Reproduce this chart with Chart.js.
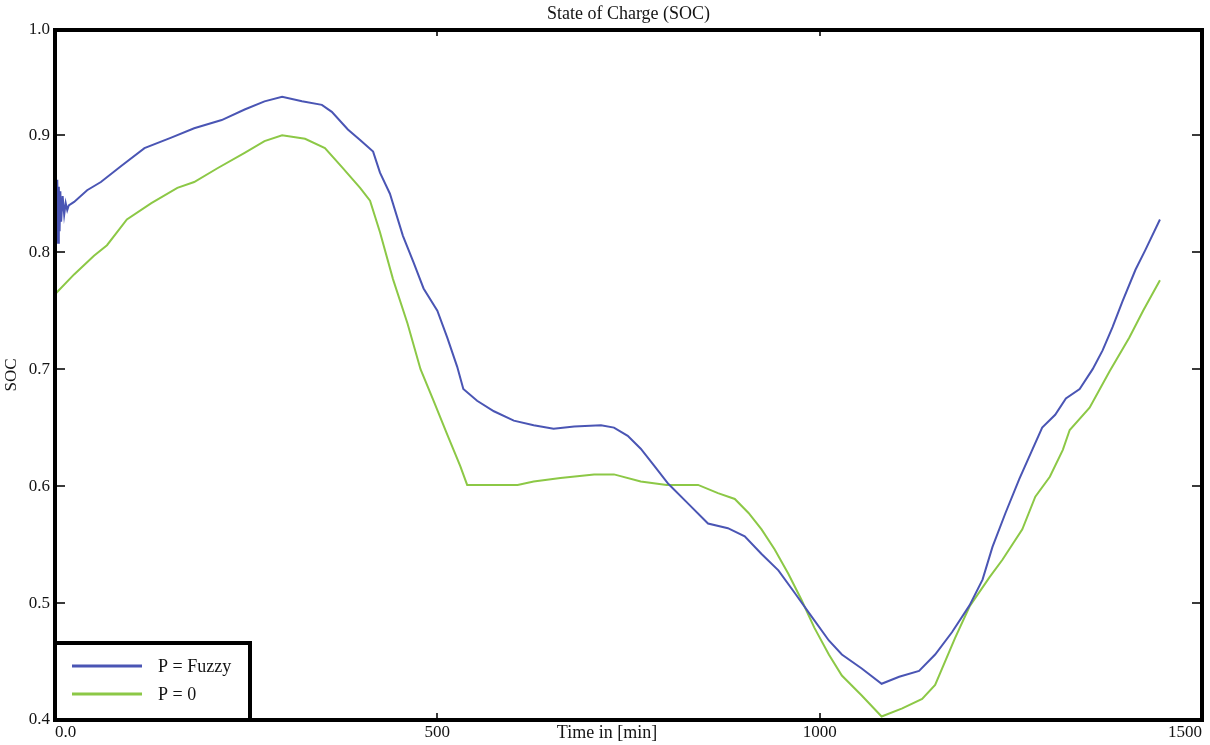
<!DOCTYPE html>
<html><head><meta charset="utf-8">
<script src="https://cdn.jsdelivr.net/npm/chart.js@4.4.1/dist/chart.umd.min.js"></script>
<style>html,body{margin:0;padding:0;background:#fff;}#wrap{width:1210px;height:745px;}</style>
</head><body><div id="wrap"><canvas id="c" width="1210" height="745"></canvas></div>
<script>
// ---- data ----
const seriesLabels = ['P = Fuzzy', 'P = 0'];
const fuzzyTime = [0,1,2,3,4,5,6,7,8,10,12,14,16,18,25,42,60,87,117,152,182,218,248,274,297,323,349,362,383,399,416,425,438,455,469,482,500,513,526,534,552,574,600,626,652,679,714,731,749,766,784,802,828,854,880,902,924,946,967,990,1012,1029,1055,1081,1104,1130,1151,1173,1196,1213,1226,1243,1261,1278,1291,1308,1322,1340,1357,1370,1383,1396,1413,1426,1445];
const fuzzySOC = [0.845,0.864,0.812,0.862,0.808,0.856,0.818,0.852,0.826,0.848,0.832,0.842,0.836,0.840,0.843,0.853,0.860,0.874,0.889,0.898,0.906,0.913,0.922,0.929,0.933,0.929,0.926,0.920,0.905,0.896,0.886,0.868,0.850,0.814,0.791,0.769,0.750,0.727,0.702,0.683,0.673,0.664,0.656,0.652,0.649,0.651,0.652,0.650,0.643,0.632,0.617,0.602,0.585,0.568,0.564,0.557,0.542,0.528,0.509,0.488,0.468,0.456,0.444,0.431,0.437,0.442,0.456,0.475,0.498,0.520,0.548,0.577,0.606,0.631,0.650,0.661,0.675,0.683,0.700,0.716,0.736,0.758,0.785,0.802,0.828];
const zeroTime = [0,25,51,68,94,126,160,182,213,248,274,297,327,353,375,399,412,425,442,461,478,495,513,530,539,565,605,626,661,705,731,766,800,841,867,889,907,924,941,959,976,993,1012,1029,1055,1081,1108,1134,1151,1177,1196,1222,1239,1265,1282,1301,1318,1327,1353,1379,1405,1423,1445];
const zeroSOC = [0.764,0.781,0.797,0.806,0.828,0.842,0.855,0.860,0.872,0.885,0.895,0.900,0.897,0.889,0.873,0.855,0.844,0.817,0.777,0.739,0.700,0.673,0.644,0.617,0.601,0.601,0.601,0.604,0.607,0.610,0.610,0.604,0.601,0.601,0.594,0.589,0.577,0.563,0.546,0.525,0.503,0.479,0.456,0.438,0.421,0.403,0.410,0.418,0.430,0.470,0.497,0.522,0.537,0.563,0.591,0.608,0.631,0.648,0.667,0.698,0.727,0.750,0.776];
const xTickValues = [0, 500, 1000, 1500];
const xTickLabels = ['0.0', '500', '1000', '1500'];
const yTickValues = [0.4, 0.5, 0.6, 0.7, 0.8, 0.9, 0.99];
const yTickLabels = ['0.4', '0.5', '0.6', '0.7', '0.8', '0.9', '1.0'];
const xRange = [0, 1500];
const yRange = [0.4, 0.99];
const chartTitle = 'State of Charge (SOC)';
const xTitle = 'Time in [min]';
const yTitle = 'SOC';

// ---- chart ----
const SERIF = "'Liberation Serif', 'Times New Roman', serif";
const TXT = '#141414';
const pts = (xs, ys) => xs.map((x, i) => ({x, y: ys[i]}));

const framePlugin = {
  id: 'frame',
  afterDraw(chart) {
    const {ctx, chartArea: a, scales: {x, y}} = chart;
    ctx.save();
    const line = (x1, y1, x2, y2) => { ctx.beginPath(); ctx.moveTo(x1, y1); ctx.lineTo(x2, y2); ctx.stroke(); };
    ctx.strokeStyle = '#3a3a3a'; ctx.lineWidth = 2;
    x.ticks.forEach(t => {
      if (t.value <= x.min || t.value >= x.max) return;
      const px = Math.round(x.getPixelForValue(t.value));
      line(px, a.bottom, px, a.bottom - 7);
      line(px, a.top, px, a.top + 6);
    });
    y.ticks.forEach(t => {
      if (t.value <= y.min || t.value >= y.max) return;
      const py = Math.round(y.getPixelForValue(t.value));
      line(a.left, py, a.left + 10, py);
      line(a.right, py, a.right - 10, py);
    });
    // frame
    ctx.strokeStyle = '#000'; ctx.lineWidth = 4;
    ctx.strokeRect(a.left, a.top, a.right - a.left, a.bottom - a.top);
    // x-axis title (centred on the whole picture, sharing the tick-label row)
    ctx.fillStyle = TXT;
    ctx.font = '18px ' + SERIF;
    ctx.textAlign = 'center'; ctx.textBaseline = 'middle';
    ctx.fillText(xTitle, chart.width / 2 + 2, 733);
    // legend box
    const lx = a.left, ly = a.bottom - 77, lw = 195, lh = 77;
    ctx.fillStyle = '#fff';
    ctx.fillRect(lx, ly, lw, lh);
    ctx.strokeRect(lx, ly, lw, lh);
    ctx.textAlign = 'left';
    chart.data.datasets.forEach((ds, i) => {
      const yy = ly + 23 + i * 28;
      ctx.strokeStyle = ds.borderColor; ctx.lineWidth = 3;
      line(lx + 17, yy, lx + 87, yy);
      ctx.fillStyle = TXT;
      ctx.fillText(ds.label, lx + 103, yy + 1);
    });
    ctx.restore();
  }
};

new Chart(document.getElementById('c'), {
  type: 'line',
  data: {
    datasets: [
      {label: seriesLabels[0], data: pts(fuzzyTime, fuzzySOC), borderColor: '#4a55b4', borderWidth: 2, pointRadius: 0, tension: 0},
      {label: seriesLabels[1], data: pts(zeroTime, zeroSOC), borderColor: '#8cc846', borderWidth: 2, pointRadius: 0, tension: 0}
    ]
  },
  options: {
    responsive: false,
    devicePixelRatio: 1,
    animation: false,
    layout: {padding: {left: 0, right: 8, top: 0, bottom: 0}},
    plugins: {legend: {display: false}, tooltip: {enabled: false}, title: {display: false}},
    scales: {
      x: {
        type: 'linear', position: 'bottom', min: xRange[0], max: xRange[1],
        afterBuildTicks: s => { s.ticks = xTickValues.map(v => ({value: v})); },
        ticks: {callback: (v, i) => xTickLabels[i], align: 'inner', padding: 2, autoSkip: false, maxRotation: 0,
                font: {family: SERIF, size: 17}, color: TXT},
        grid: {display: false, drawTicks: false}, border: {display: false},
        afterFit: s => { s.height = 25; }
      },
      x2: {
        type: 'linear', position: 'top', min: xRange[0], max: xRange[1],
        ticks: {display: false}, grid: {display: false, drawTicks: false}, border: {display: false},
        title: {display: true, text: chartTitle, font: {family: SERIF, size: 18}, color: TXT, padding: {top: 3, bottom: 0}},
        afterFit: s => { s.height = 30; }
      },
      y: {
        type: 'linear', position: 'left', min: yRange[0], max: yRange[1],
        afterBuildTicks: s => { s.ticks = yTickValues.map(v => ({value: v})); },
        ticks: {callback: (v, i) => yTickLabels[i], padding: 5, font: {family: SERIF, size: 17}, color: TXT},
        grid: {display: false, drawTicks: false}, border: {display: false},
        title: {display: true, text: yTitle, font: {family: SERIF, size: 17}, color: TXT, padding: {top: 1, bottom: 0}},
        afterFit: s => { s.width = 55; }
      }
    }
  },
  plugins: [framePlugin]
});
</script>
</body></html>
